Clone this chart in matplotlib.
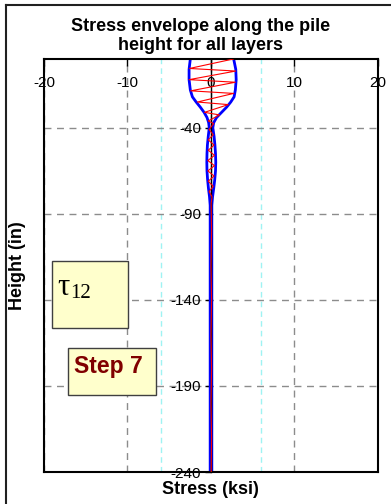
import matplotlib
matplotlib.use("Agg")
import matplotlib.pyplot as plt
from matplotlib.patches import Rectangle
from matplotlib.lines import Line2D

plt.rcParams['font.family'] = ['Liberation Sans', 'DejaVu Sans']
plt.rcParams['axes.unicode_minus'] = False

# Envelope of the shear stress along the pile (max / min over all layers)
env_height = [0, -6, -12, -18, -22, -25, -28, -31, -34, -37, -40, -45, -50, -55,
              -60, -65, -70, -75, -80, -85, -240]
env_min = [-2.45, -2.6, -2.6, -2.45, -2.2, -1.75, -1.25, -0.8, -0.45, -0.25, -0.18,
           -0.3, -0.4, -0.45, -0.47, -0.45, -0.38, -0.28, -0.15, -0.07, -0.07]
env_max = [2.75, 3.0, 3.05, 2.95, 2.8, 2.4, 1.9, 1.3, 0.7, 0.35, 0.25,
           0.4, 0.5, 0.57, 0.6, 0.57, 0.48, 0.36, 0.22, 0.13, 0.13]

# Stress profile of the current step (element-wise, zig-zag between faces)
step_height = [0, -5.5, -7, -12, -13.5, -18.5, -20, -25, -26.5, -31, -32.5, -36, -37.5,
               -41, -44, -47, -50, -53, -56, -59, -62, -65, -68, -71, -74, -77, -80,
               -84, -100, -120, -140, -160, -180, -200, -220, -240]
step_stress = [2.7, -2.55, 3.0, -2.6, 2.95, -2.4, 2.75, -1.6, 2.1, -0.75, 1.05, -0.3, 0.35,
               -0.2, 0.3, -0.3, 0.4, -0.3, 0.45, -0.35, 0.45, -0.35, 0.4, -0.3, 0.3, -0.2, 0.15,
               0.05, 0.1, 0.03, 0.1, 0.03, 0.1, 0.03, 0.1, 0.05]

x_ticks = [-20, -10, 0, 10, 20]
y_ticks = [-240, -190, -140, -90, -40]
allowable = [-6, 6]

W, H = 391, 504
fig = plt.figure(figsize=(W / 100, H / 100), dpi=100)
ax = fig.add_axes([44 / W, 1 - 472 / H, (377.5 - 44) / W, (472 - 59) / H])

ax.set_xlim(-20, 20)
ax.set_ylim(-240, 0)

# grid
ax.set_xticks(x_ticks)
ax.set_yticks(y_ticks)
ax.grid(True, color='#8c8c8c', linestyle=(0, (5, 4)), linewidth=1.0, zorder=0)
ax.set_axisbelow(True)
for a in allowable:
    ax.axvline(a, color='#9ff3f3', linestyle=(0, (4, 3)), linewidth=1.0, zorder=0.5)

# curves
ax.plot(env_min, env_height, color='#0000ff', linewidth=2.0, zorder=2)
ax.plot(env_max, env_height, color='#0000ff', linewidth=2.0, zorder=2)
ax.plot(step_stress, step_height, color='#ff0000', linewidth=0.8, zorder=3)

# axes crossing at the origin
ax.spines['left'].set_position(('data', 0))
ax.spines['left'].set_linewidth(1.0)
for s in ['top', 'right', 'bottom']:
    ax.spines[s].set_linewidth(1.5)
ax.axvline(-20, color='black', linewidth=1.5, clip_on=False, zorder=2.6)

ax.xaxis.set_ticks_position('top')
ax.tick_params(axis='x', direction='in', length=5, width=1, pad=-22,
               labelsize=11, top=True, bottom=False, labeltop=True, labelbottom=False)
ax.tick_params(axis='y', direction='out', length=4, width=1, pad=3, labelsize=11)

# titles and labels
fig.text(201 / W, 1 - 18 / H, 'Stress envelope along the pile\nheight for all layers',
         ha='center', va='top', fontsize=13, fontweight='bold', linespacing=1.15)
fig.text(18 / W, 1 - 266 / H, 'Height (in)', rotation=90, ha='center', va='center',
         fontsize=13, fontweight='bold')
fig.text(210 / W, 1 - 489 / H, 'Stress (ksi)', ha='center', va='center',
         fontsize=13, fontweight='bold')

# annotation boxes
box_kw = dict(facecolor='#ffffcc', edgecolor='#404040', linewidth=1.0,
              transform=fig.transFigure, zorder=5)
fig.add_artist(Rectangle((52.3 / W, 1 - 327.7 / H), 75.4 / W, 66.7 / H, **box_kw))
fig.add_artist(Rectangle((68.3 / W, 1 - 395 / H), 87.7 / W, 46.7 / H, **box_kw))

fig.text(57 / W, 1 - 295 / H, 'τ', ha='left', va='baseline', fontsize=22,
         family=['Liberation Serif', 'DejaVu Serif'], zorder=6)
fig.text(70 / W, 1 - 298 / H, '12', ha='left', va='baseline', fontsize=15,
         family=['Liberation Serif', 'DejaVu Serif'], zorder=6)
fig.text(108 / W, 1 - 366 / H, 'Step 7', ha='center', va='center', fontsize=16.5,
         fontweight='bold', color='#800000', zorder=6)

# chart-area frame
fig.add_artist(Line2D([6 / W, 6 / W], [0, 1 - 5 / H], color='#202020', linewidth=1.5,
                      transform=fig.transFigure))
fig.add_artist(Line2D([6 / W, 1], [1 - 5 / H, 1 - 5 / H], color='#202020', linewidth=1.5,
                      transform=fig.transFigure))

fig.savefig('out.png', dpi=100)
